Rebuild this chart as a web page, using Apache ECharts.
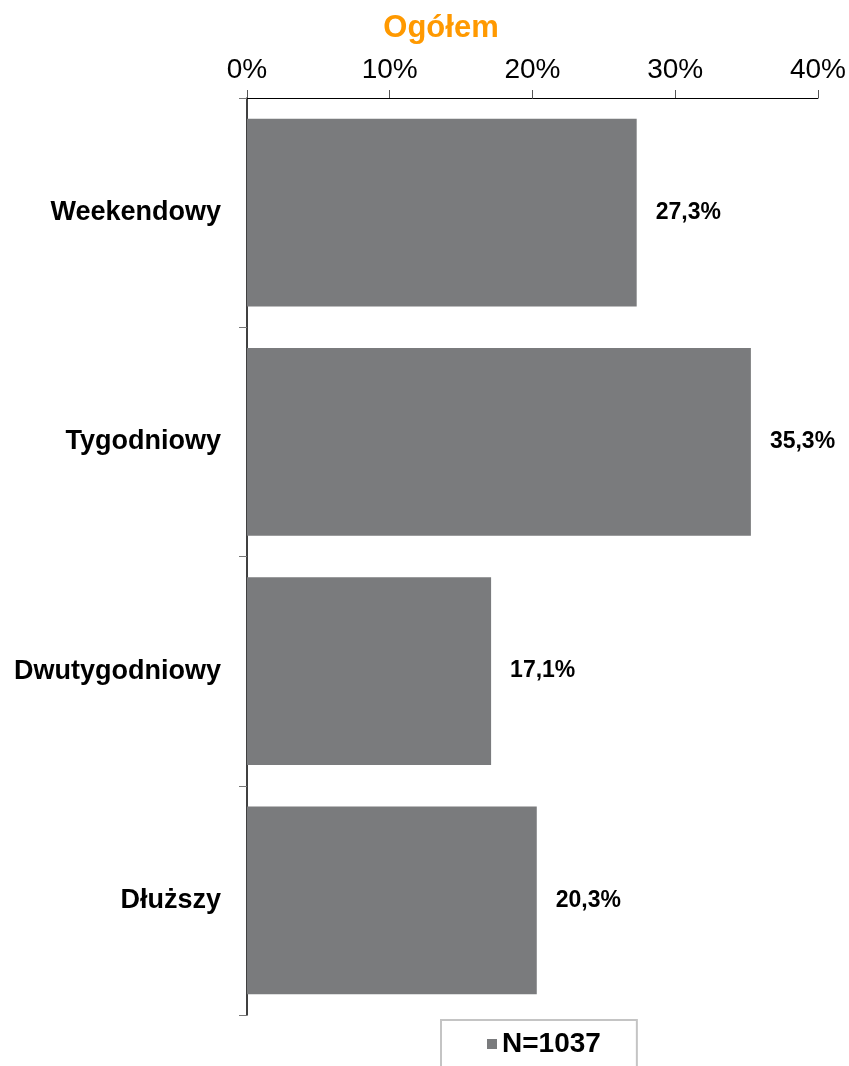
<!DOCTYPE html>
<html>
<head>
<meta charset="utf-8">
<script src="https://cdn.jsdelivr.net/npm/echarts@6/dist/echarts.min.js"></script>
<style>html,body{margin:0;padding:0;background:#fff}#c{width:849px;height:1066px}</style>
</head>
<body>
<div id="c"></div>
<script>
const categories = ["Weekendowy", "Tygodniowy", "Dwutygodniowy", "Dłuższy"];
const values = [27.3, 35.3, 17.1, 20.3];
const seriesName = "N=1037";
const titleText = "Ogółem";
const xTicks = [0, 10, 20, 30, 40];

const chart = echarts.init(document.getElementById('c'), null, {renderer: 'canvas'});
const F = '"Liberation Sans", Arial, sans-serif';
chart.setOption({
  animation: false,
  backgroundColor: '#fff',
  title: {
    text: titleText, left: 436, top: 8, textAlign: 'center',
    textStyle: {color: '#FF9900', fontFamily: F, fontWeight: 'bold', fontSize: 31}
  },
  grid: {left: 247, right: 29, top: 98, bottom: 51, containLabel: false},
  xAxis: {
    type: 'value', position: 'top', min: xTicks[0], max: xTicks[xTicks.length-1], interval: 10,
    axisLine: {show: true, lineStyle: {color: '#000', width: 1}},
    axisTick: {show: true, length: 8, lineStyle: {color: '#555'}},
    splitLine: {show: false},
    axisLabel: {formatter: v => v + '%', color: '#000', fontFamily: F, fontSize: 28, margin: 14}
  },
  yAxis: {
    type: 'category', data: categories, inverse: true,
    axisLine: {show: true, lineStyle: {color: '#000', width: 1.5}},
    axisTick: {show: true, length: 8, lineStyle: {color: '#777'}},
    axisLabel: {color: '#000', fontFamily: F, fontWeight: 'bold', fontSize: 27, margin: 26}
  },
  legend: {
    data: [{name: seriesName, icon: 'rect'}],
    left: 441, top: 1020, orient: 'horizontal',
    itemWidth: 10, itemHeight: 10,
    padding: [10, 36, 30, 46],
    borderColor: '#c4c4c4', borderWidth: 2,
    textStyle: {color: '#000', fontFamily: F, fontWeight: 'bold', fontSize: 28}
  },
  series: [{
    name: seriesName, type: 'bar', data: values, barCategoryGap: '18%',
    itemStyle: {color: '#7a7b7d'},
    label: {
      show: true, position: 'right', distance: 19,
      formatter: p => p.value.toFixed(1).replace('.', ',') + '%',
      color: '#000', fontFamily: F, fontWeight: 'bold', fontSize: 23
    }
  }]
});
</script>
</body>
</html>
